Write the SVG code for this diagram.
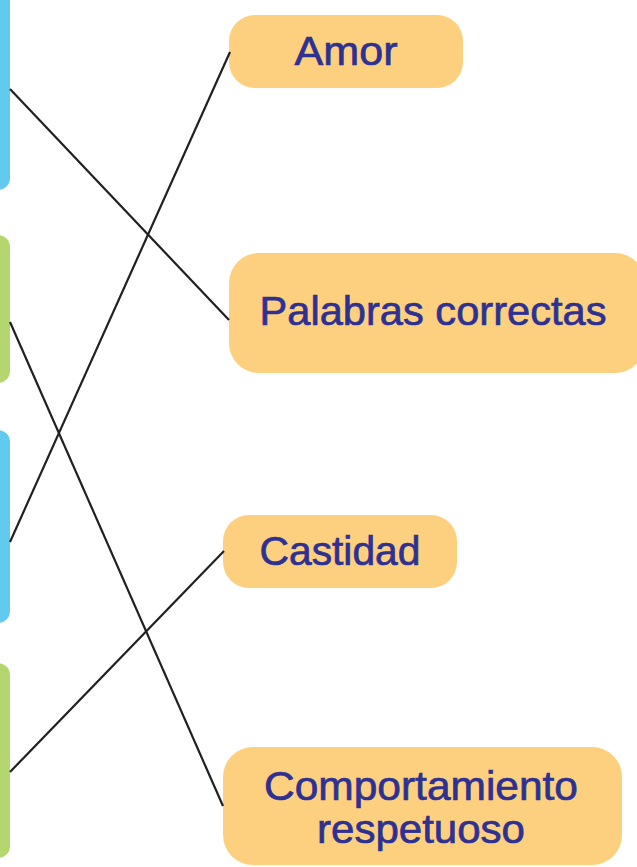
<svg xmlns="http://www.w3.org/2000/svg" width="637" height="867" viewBox="0 0 637 867">
<style>
.blue{fill:#62c9ef}
.green{fill:#b3d66e}
.opt{fill:#fdd080}
.lbl{font-family:"Liberation Sans","Noto Sans",sans-serif;font-size:41px;fill:#2e3192;stroke:#2e3192;stroke-width:0.7;text-anchor:middle}
.conn line{stroke:#231f20;stroke-width:2.2;stroke-linecap:butt}
</style>
<rect width="637" height="867" fill="#ffffff"/>
<g id="left1"><rect class="blue" x="-30" y="-20" width="40" height="210" rx="12"/></g>
<g id="left2"><rect class="green" x="-30" y="235" width="40" height="148" rx="12"/></g>
<g id="left3"><rect class="blue" x="-30" y="430" width="40" height="193" rx="12"/></g>
<g id="left4"><rect class="green" x="-30" y="663" width="40" height="195" rx="12"/></g>
<g id="amor"><rect class="opt" x="229" y="15" width="234" height="73" rx="26"/><text class="lbl" x="346" y="65" textLength="103" lengthAdjust="spacingAndGlyphs">Amor</text></g>
<g id="palabras"><rect class="opt" x="229" y="253" width="416" height="120" rx="30"/><text class="lbl" x="433" y="325" textLength="347" lengthAdjust="spacingAndGlyphs">Palabras correctas</text></g>
<g id="castidad"><rect class="opt" x="223" y="515" width="234" height="73" rx="26"/><text class="lbl" x="340" y="565" textLength="161" lengthAdjust="spacingAndGlyphs">Castidad</text></g>
<g id="comportamiento"><rect class="opt" x="223" y="747" width="399" height="118" rx="30"/><text class="lbl" x="421" y="800" textLength="314" lengthAdjust="spacingAndGlyphs">Comportamiento</text><text class="lbl" x="421" y="843" textLength="208" lengthAdjust="spacingAndGlyphs">respetuoso</text></g>
<g id="connectors" class="conn">
<line x1="10" y1="89" x2="229" y2="320"/>
<line x1="10" y1="542" x2="230" y2="52"/>
<line x1="10" y1="322" x2="223" y2="806"/>
<line x1="10" y1="772" x2="224" y2="551"/>
</g>
</svg>
